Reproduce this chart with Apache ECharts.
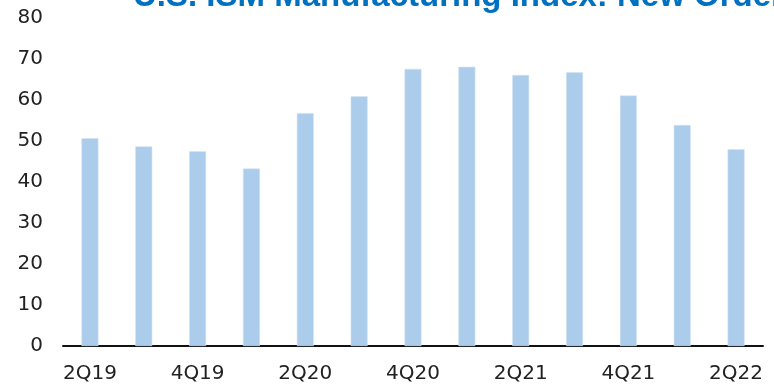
<!DOCTYPE html>
<html>
<head>
<meta charset="utf-8">
<style>
  html, body { margin: 0; padding: 0; background: #ffffff; }
  #chart { width: 774px; height: 384px; }
</style>
<script src="https://cdn.jsdelivr.net/npm/echarts@6/dist/echarts.min.js"></script>
</head>
<body>
<div id="chart"></div>
<script>
// Quarterly ISM new orders readings
const quarters = ['2Q19', '3Q19', '4Q19', '1Q20', '2Q20', '3Q20', '4Q20',
                  '1Q21', '2Q21', '3Q21', '4Q21', '1Q22', '2Q22'];
const newOrders = [50.7, 48.7, 47.5, 43.3, 56.8, 60.9, 67.6,
                   68.1, 66.1, 66.8, 61.1, 53.9, 48.0];
const yTicks = { min: 0, max: 80, step: 10 };
const titleText = 'U.S. ISM Manufacturing Index: New Orders';

const chart = echarts.init(document.getElementById('chart'), null, { renderer: 'canvas' });

chart.setOption({
  backgroundColor: '#ffffff',
  animation: false,
  graphic: [{
    type: 'text',
    x: 133,
    y: -20,
    style: {
      text: titleText,
      font: 'bold 33px "Liberation Sans", Arial, sans-serif',
      fill: '#0070C0',
      verticalAlign: 'top'
    }
  }],
  grid: { left: 63, right: 11, top: 18, bottom: 38 },
  xAxis: {
    type: 'category',
    data: quarters,
    boundaryGap: true,
    axisLine: { show: true, lineStyle: { color: '#111111', width: 2 } },
    axisTick: { show: false },
    axisLabel: {
      interval: 1,
      margin: 18,
      color: '#222222',
      fontSize: 20,
      fontFamily: '"DejaVu Sans", sans-serif'
    },
    splitLine: { show: false }
  },
  yAxis: {
    type: 'value',
    min: yTicks.min,
    max: yTicks.max,
    interval: yTicks.step,
    axisLine: { show: false },
    axisTick: { show: false },
    splitLine: { show: false },
    axisLabel: {
      margin: 20,
      color: '#222222',
      fontSize: 20,
      fontFamily: '"DejaVu Sans", sans-serif'
    }
  },
  series: [{
    type: 'bar',
    data: newOrders,
    barWidth: 17,
    itemStyle: { color: '#ABCCEB', borderColor: '#D3E4F4', borderWidth: 0.6 },
    emphasis: { disabled: true }
  }]
});
</script>
</body>
</html>
